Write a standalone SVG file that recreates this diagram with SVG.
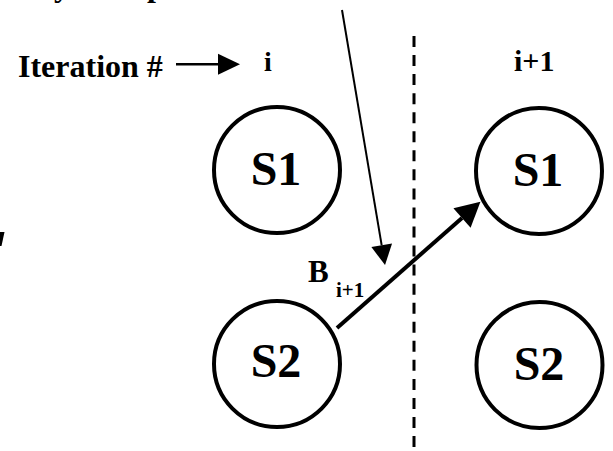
<svg xmlns="http://www.w3.org/2000/svg" width="613" height="451" viewBox="0 0 613 451">
<style>
.t{font-family:"Liberation Serif","Times New Roman",serif;font-weight:bold;fill:#000}
.node{fill:#fff;stroke:#000;stroke-width:4}
.lbl{font-size:48px;text-anchor:middle}
.ln{stroke:#000;fill:none}
</style>
<defs>
<marker id="hThin" markerUnits="userSpaceOnUse" markerWidth="22" markerHeight="22" refX="0" refY="10.5" orient="auto" viewBox="0 0 22 21" overflow="visible">
<path d="M0,0 L20,10.5 L0,21 Z" fill="#000"/>
</marker>
<marker id="hThick" markerUnits="userSpaceOnUse" markerWidth="26" markerHeight="26" refX="0" refY="12.7" orient="auto" viewBox="0 0 24 25.4" overflow="visible">
<path d="M0,0 L24,12.7 L0,25.4 Z" fill="#000"/>
</marker>
<marker id="hIter" markerUnits="userSpaceOnUse" markerWidth="22" markerHeight="22" refX="0" refY="10.5" orient="auto" viewBox="0 0 22 21" overflow="visible">
<path d="M0,0 L22,10.5 L0,21 Z" fill="#000"/>
</marker>
</defs>
<rect width="613" height="451" fill="#fff"/>
<g id="fragments">
<text class="t" x="54" y="-4" font-size="32">y</text>
<text class="t" x="147" y="-4" font-size="32">p</text>
<polygon points="0,232 4.5,232 1.5,246 0,246" fill="#000"/>
</g>
<g id="labels">
<text class="t" x="18" y="77" font-size="32">Iteration #</text>
<text class="t" x="264" y="71" font-size="28">i</text>
<text class="t" x="514" y="71" font-size="30">i+1</text>
<text class="t" x="308" y="282" font-size="31">B<tspan x="336" y="297" font-size="21">i+1</tspan></text>
</g>
<g id="node-S1-i">
<circle class="node" cx="277" cy="170" r="63"/>
<text class="t lbl" x="276" y="185">S1</text>
</g>
<g id="node-S2-i">
<circle class="node" cx="277" cy="364" r="63"/>
<text class="t lbl" x="276" y="377">S2</text>
</g>
<g id="node-S1-i1">
<circle class="node" cx="539" cy="171" r="63"/>
<text class="t lbl" x="538" y="186">S1</text>
</g>
<g id="node-S2-i1">
<circle class="node" cx="539.5" cy="365" r="63"/>
<text class="t lbl" x="539" y="380">S2</text>
</g>
<g id="connectors">
<line class="ln" x1="414" y1="36" x2="414" y2="447" stroke-width="3" stroke-dasharray="11 8.05"/>
<line class="ln" x1="176" y1="64.3" x2="218" y2="64.3" stroke-width="2.5" marker-end="url(#hIter)"/>
<line class="ln" x1="342" y1="10" x2="381.7" y2="245.3" stroke-width="2" marker-end="url(#hThin)"/>
<line class="ln" x1="337" y1="328" x2="462" y2="218" stroke-width="4" marker-end="url(#hThick)"/>
</g>
</svg>
